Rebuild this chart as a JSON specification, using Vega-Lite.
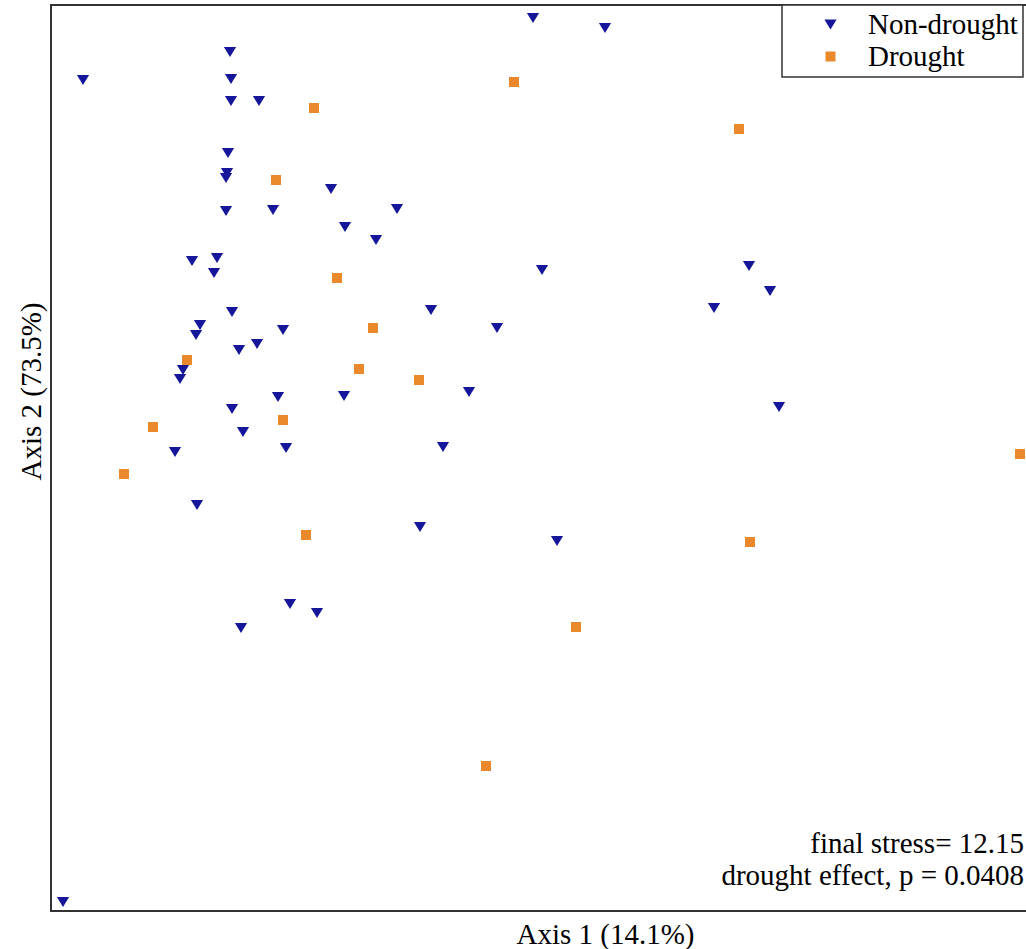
{
  "$schema": "https://vega.github.io/schema/vega-lite/v6.json",
  "width": 985,
  "height": 906,
  "autosize": "none",
  "padding": {"left": 51, "top": 5, "right": 0, "bottom": 38},
  "background": "white",
  "config": {
    "view": {"stroke": "#333333", "strokeWidth": 2},
    "font": "Times New Roman, Liberation Serif, serif",
    "legend": {
      "orient": "none",
      "legendX": 731,
      "legendY": 0,
      "strokeColor": "#333333",
      "strokeWidth": 1.5,
      "fillColor": "white",
      "padding": 5,
      "symbolOffset": 29,
      "symbolSize": 150,
      "symbolStrokeWidth": 0,
      "labelFont": "Times New Roman, Liberation Serif, serif",
      "labelFontSize": 29,
      "labelColor": "#000000",
      "labelOffset": 23,
      "rowPadding": 2
    }
  },
  "layer": [
    {
      "data": {
        "values": [
          {"group": "Non-drought", "axis1": 4.82, "axis2": 8.93},
          {"group": "Non-drought", "axis1": 5.54, "axis2": 8.83},
          {"group": "Non-drought", "axis1": 1.79, "axis2": 8.59},
          {"group": "Non-drought", "axis1": 0.32, "axis2": 8.31},
          {"group": "Non-drought", "axis1": 1.80, "axis2": 8.32},
          {"group": "Non-drought", "axis1": 1.80, "axis2": 8.10},
          {"group": "Non-drought", "axis1": 2.08, "axis2": 8.10},
          {"group": "Non-drought", "axis1": 1.77, "axis2": 7.58},
          {"group": "Non-drought", "axis1": 1.76, "axis2": 7.38},
          {"group": "Non-drought", "axis1": 1.75, "axis2": 7.33},
          {"group": "Non-drought", "axis1": 2.80, "axis2": 7.22},
          {"group": "Non-drought", "axis1": 1.75, "axis2": 7.00},
          {"group": "Non-drought", "axis1": 2.22, "axis2": 7.01},
          {"group": "Non-drought", "axis1": 3.46, "axis2": 7.02},
          {"group": "Non-drought", "axis1": 2.94, "axis2": 6.84},
          {"group": "Non-drought", "axis1": 3.25, "axis2": 6.71},
          {"group": "Non-drought", "axis1": 1.41, "axis2": 6.50},
          {"group": "Non-drought", "axis1": 1.66, "axis2": 6.53},
          {"group": "Non-drought", "axis1": 1.63, "axis2": 6.38},
          {"group": "Non-drought", "axis1": 4.91, "axis2": 6.41},
          {"group": "Non-drought", "axis1": 6.98, "axis2": 6.45},
          {"group": "Non-drought", "axis1": 7.19, "axis2": 6.20},
          {"group": "Non-drought", "axis1": 6.63, "axis2": 6.03},
          {"group": "Non-drought", "axis1": 1.81, "axis2": 5.99},
          {"group": "Non-drought", "axis1": 1.49, "axis2": 5.86},
          {"group": "Non-drought", "axis1": 3.80, "axis2": 6.01},
          {"group": "Non-drought", "axis1": 1.45, "axis2": 5.76},
          {"group": "Non-drought", "axis1": 2.32, "axis2": 5.81},
          {"group": "Non-drought", "axis1": 4.46, "axis2": 5.83},
          {"group": "Non-drought", "axis1": 2.06, "axis2": 5.67},
          {"group": "Non-drought", "axis1": 1.88, "axis2": 5.61},
          {"group": "Non-drought", "axis1": 1.32, "axis2": 5.41},
          {"group": "Non-drought", "axis1": 1.29, "axis2": 5.32},
          {"group": "Non-drought", "axis1": 2.27, "axis2": 5.14},
          {"group": "Non-drought", "axis1": 2.93, "axis2": 5.15},
          {"group": "Non-drought", "axis1": 4.18, "axis2": 5.19},
          {"group": "Non-drought", "axis1": 1.81, "axis2": 5.02},
          {"group": "Non-drought", "axis1": 7.28, "axis2": 5.04},
          {"group": "Non-drought", "axis1": 1.92, "axis2": 4.79},
          {"group": "Non-drought", "axis1": 1.24, "axis2": 4.59},
          {"group": "Non-drought", "axis1": 2.35, "axis2": 4.63},
          {"group": "Non-drought", "axis1": 3.92, "axis2": 4.64},
          {"group": "Non-drought", "axis1": 1.46, "axis2": 4.06},
          {"group": "Non-drought", "axis1": 3.69, "axis2": 3.84},
          {"group": "Non-drought", "axis1": 5.06, "axis2": 3.70},
          {"group": "Non-drought", "axis1": 2.39, "axis2": 3.07},
          {"group": "Non-drought", "axis1": 2.66, "axis2": 2.98},
          {"group": "Non-drought", "axis1": 1.90, "axis2": 2.83},
          {"group": "Non-drought", "axis1": 0.12, "axis2": 0.09},
          {"group": "Drought", "axis1": 4.63, "axis2": 8.29},
          {"group": "Drought", "axis1": 2.63, "axis2": 8.03},
          {"group": "Drought", "axis1": 6.88, "axis2": 7.82},
          {"group": "Drought", "axis1": 2.25, "axis2": 7.31},
          {"group": "Drought", "axis1": 2.86, "axis2": 6.33},
          {"group": "Drought", "axis1": 3.22, "axis2": 5.83},
          {"group": "Drought", "axis1": 1.36, "axis2": 5.51},
          {"group": "Drought", "axis1": 3.08, "axis2": 5.42},
          {"group": "Drought", "axis1": 3.68, "axis2": 5.31},
          {"group": "Drought", "axis1": 2.32, "axis2": 4.91},
          {"group": "Drought", "axis1": 1.02, "axis2": 4.84},
          {"group": "Drought", "axis1": 0.73, "axis2": 4.37},
          {"group": "Drought", "axis1": 9.69, "axis2": 4.57},
          {"group": "Drought", "axis1": 2.55, "axis2": 3.76},
          {"group": "Drought", "axis1": 6.99, "axis2": 3.69},
          {"group": "Drought", "axis1": 5.25, "axis2": 2.84},
          {"group": "Drought", "axis1": 4.35, "axis2": 1.45}
        ]
      },
      "mark": {"type": "point", "filled": true, "opacity": 1, "strokeWidth": 0},
      "encoding": {
        "x": {
          "field": "axis1",
          "type": "quantitative",
          "scale": {"domain": [0, 9.85], "nice": false, "zero": false},
          "axis": {
            "title": "Axis 1 (14.1%)",
            "labels": false,
            "ticks": false,
            "grid": false,
            "domain": false,
            "titleFont": "Times New Roman, Liberation Serif, serif",
            "titleFontSize": 29,
            "titleFontWeight": "normal",
            "titleColor": "#000000",
            "titleX": 554,
            "titleY": 32,
            "titleBaseline": "alphabetic"
          }
        },
        "y": {
          "field": "axis2",
          "type": "quantitative",
          "scale": {"domain": [0, 9.06], "nice": false, "zero": false},
          "axis": {
            "title": "Axis 2 (73.5%)",
            "labels": false,
            "ticks": false,
            "grid": false,
            "domain": false,
            "titleFont": "Times New Roman, Liberation Serif, serif",
            "titleFontSize": 29,
            "titleFontWeight": "normal",
            "titleColor": "#000000",
            "titleX": -11,
            "titleY": 386,
            "titleAngle": 270,
            "titleBaseline": "alphabetic"
          }
        },
        "color": {
          "field": "group",
          "type": "nominal",
          "scale": {"domain": ["Non-drought", "Drought"], "range": ["#16169a", "#e9892c"]},
          "legend": {"title": null, "labelFont": "Times New Roman, Liberation Serif, serif", "labelFontSize": 29}
        },
        "shape": {
          "field": "group",
          "type": "nominal",
          "scale": {"domain": ["Non-drought", "Drought"], "range": ["M-1,-0.8L1,-0.8L0,0.8Z", "square"]},
          "legend": {"title": null, "labelFont": "Times New Roman, Liberation Serif, serif", "labelFontSize": 29}
        },
        "size": {
          "field": "group",
          "type": "nominal",
          "scale": {"domain": ["Non-drought", "Drought"], "range": [150, 100]},
          "legend": null
        }
      }
    },
    {
      "data": {"values": [{"note": "stats"}]},
      "mark": {
        "type": "text",
        "align": "right",
        "baseline": "alphabetic",
        "font": "Times New Roman, Liberation Serif, serif",
        "fontSize": 29,
        "lineHeight": 32,
        "color": "#000000"
      },
      "encoding": {
        "x": {"datum": 9.73, "type": "quantitative"},
        "y": {"datum": 0.58, "type": "quantitative"},
        "text": {"value": ["final stress= 12.15", "drought effect, p = 0.0408"]}
      }
    }
  ]
}
